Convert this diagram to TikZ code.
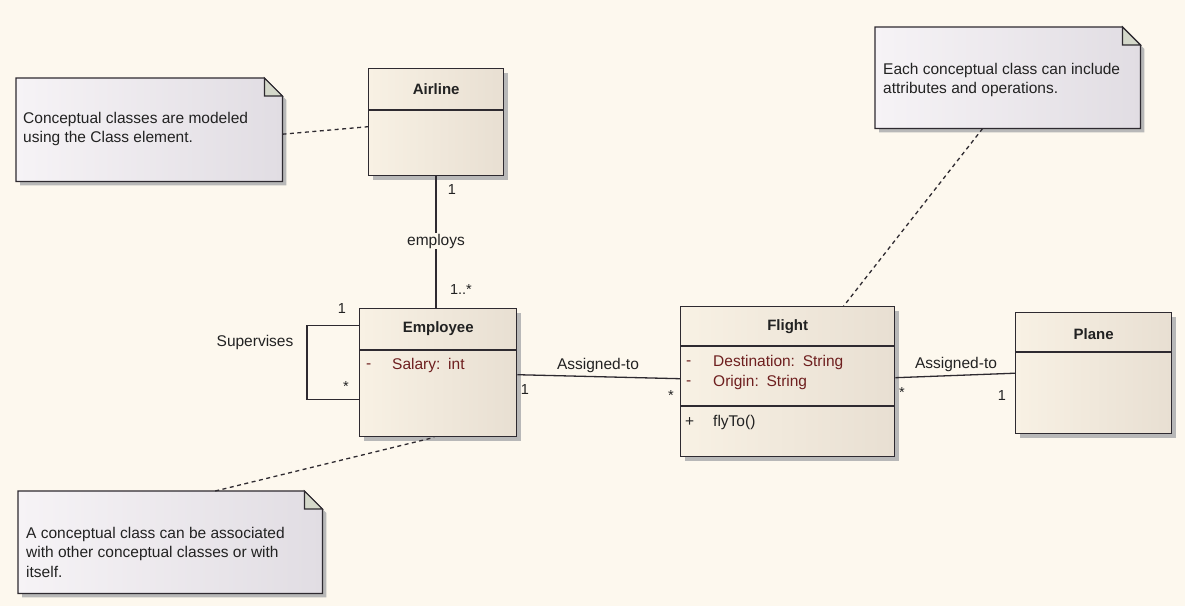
\documentclass[tikz,border=0pt]{standalone}
\usepackage{fontspec}
\setmainfont{Liberation Sans}
\usetikzlibrary{shadows,calc}

\definecolor{bgcream}{HTML}{FDF8EE}
\definecolor{classL}{HTML}{F8F1E4}
\definecolor{classR}{HTML}{E8DFD2}
\definecolor{noteL}{HTML}{F6F3F6}
\definecolor{noteR}{HTML}{E1DDE3}
\definecolor{foldcol}{HTML}{D4D8CA}
\definecolor{linecol}{HTML}{2E2A30}
\definecolor{attrcol}{HTML}{6E1F1F}
\definecolor{textcol}{HTML}{222222}
\definecolor{shadowcol}{HTML}{B8B8B8}

% outline of a note with a folded corner
\newcommand{\notepath}[1]{(#1.north west) -- ($(#1.north east)+(-18,0)$) -- ($(#1.north east)+(0,18)$) -- (#1.south east) -- (#1.south west) -- cycle}
\newcommand{\notefold}[1]{($(#1.north east)+(-18,0)$) -- ($(#1.north east)+(-18,18)$) -- ($(#1.north east)+(0,18)$) -- cycle}

\begin{document}
\begin{tikzpicture}[x=1pt,y=-1pt,
    classbox/.style={draw=linecol, line width=1.4pt, left color=classL, right color=classR,
        anchor=north west, inner sep=0pt,
        drop shadow={shadow xshift=4pt, shadow yshift=-4pt, fill=shadowcol, opacity=1}},
    classline/.style={draw=linecol, line width=1.2pt},
    notebox/.style={anchor=north west, inner sep=0pt},
    notedraw/.style={draw=linecol, line width=1.2pt, left color=noteL, right color=noteR},
    notetext/.style={anchor=west, align=left, text=textcol, inner sep=0pt,
        font=\fontsize{15.5}{19.5}\selectfont},
    titletext/.style={text=textcol, font=\fontsize{15}{18}\selectfont\bfseries},
    attrtext/.style={anchor=west, text=attrcol, inner sep=0pt, font=\fontsize{15.5}{18}\selectfont},
    labeltext/.style={text=textcol, inner sep=1pt, font=\fontsize{15.5}{18}\selectfont},
    multtext/.style={text=textcol, inner sep=0pt, font=\fontsize{14.5}{17}\selectfont},
    assoc/.style={draw=linecol, line width=1.3pt},
    noteline/.style={draw=linecol, line width=1.3pt, dash pattern=on 4pt off 3.5pt}]

    % Background
    \useasboundingbox (0,0) rectangle (1185,606);
    \fill[bgcream] (0,0) rectangle (1185,606);

    % Classes
    \node[classbox, minimum width=135pt, minimum height=107pt] (airline) at (368,68) {};
    \draw[classline] ([yshift=-42pt]airline.north west) -- ([yshift=-42pt]airline.north east);
    \node[titletext] (airlineTitle) at ($(airline.north)+(0,21)$) {Airline};

    \node[classbox, minimum width=157pt, minimum height=128pt] (employee) at (359,308) {};
    \draw[classline] ([yshift=-42pt]employee.north west) -- ([yshift=-42pt]employee.north east);
    \node[titletext] (employeeTitle) at ($(employee.north)+(0,21)$) {Employee};
    \node[attrtext] (salaryVis) at (366,366) {-};
    \node[attrtext] (salary) at (392,365) {Salary:\enspace int};

    \node[classbox, minimum width=214pt, minimum height=150pt] (flight) at (680,306) {};
    \draw[classline] ([yshift=-40pt]flight.north west) -- ([yshift=-40pt]flight.north east);
    \draw[classline] ([yshift=-100pt]flight.north west) -- ([yshift=-100pt]flight.north east);
    \node[titletext] (flightTitle) at ($(flight.north)+(0,21)$) {Flight};
    \node[attrtext] (destVis) at (686,363) {-};
    \node[attrtext] (dest) at (713,362) {Destination:\enspace String};
    \node[attrtext] (originVis) at (686,383) {-};
    \node[attrtext] (origin) at (713,382) {Origin:\enspace String};
    \node[attrtext, text=textcol] (flyVis) at (685,422) {+};
    \node[attrtext, text=textcol] (flyTo) at (713,422) {flyTo()};

    \node[classbox, minimum width=156pt, minimum height=121pt] (plane) at (1015,312) {};
    \draw[classline] ([yshift=-40pt]plane.north west) -- ([yshift=-40pt]plane.north east);
    \node[titletext] (planeTitle) at ($(plane.north)+(0,22)$) {Plane};

    % Notes
    \foreach \n/\x/\y/\w/\h in {note1/16/78/266/103, note2/875/27/265/101, note3/18/491/304/102} {
        \node[notebox, minimum width=\w pt, minimum height=\h pt] (\n) at (\x,\y) {};
        \fill[shadowcol, transform canvas={xshift=4pt, yshift=-4pt}] \notepath{\n};
        \draw[notedraw] \notepath{\n};
        \draw[draw=linecol, line width=1.2pt, fill=foldcol] \notefold{\n};
    }
    \node[notetext] (note1Text) at (23,129) {Conceptual classes are modeled\\using the Class element.};
    \node[notetext] (note2Text) at (883,80) {Each conceptual class can include\\attributes and operations.};
    \node[notetext] (note3Text) at (26,552) {A conceptual class can be associated\\with other conceptual classes or with\\itself.};

    % Note links
    \draw[noteline] ([yshift=-4.5pt]note1.east) -- ([yshift=-4.5pt]airline.west);
    \draw[noteline] ([xshift=-25pt]note2.south) -- ([xshift=56pt]flight.north);
    \draw[noteline] ([xshift=45pt]note3.north) -- ([xshift=-4pt]employee.south);

    % employs
    \node[labeltext] (employs) at (436,241) {employs};
    \draw[assoc] (employs.north |- airline.south) -- (employs.north);
    \draw[assoc] (employs.south) -- (employs.south |- employee.north);
    \node[multtext] (employsOne) at (452,190) {1};
    \node[multtext] (employsMany) at (461,290) {1..*};

    % Supervises
    \draw[assoc] ([yshift=47pt]employee.west) -- ++(-52,0) |- ([yshift=-27pt]employee.west);
    \node[labeltext] (supervises) at (255,342) {Supervises};
    \node[multtext] (superOne) at (342,309) {1};
    \node[multtext] (superMany) at (346,387) {*};

    % Assigned-to (Employee - Flight)
    \draw[assoc] ([yshift=-2pt]employee.east) -- ([yshift=3pt]flight.west);
    \node[labeltext] (assignEmp) at (598,365) {Assigned-to};
    \node[multtext] (assignEmpOne) at (525,390) {1};
    \node[multtext] (assignEmpMany) at (671,396) {*};

    % Assigned-to (Flight - Plane)
    \draw[assoc] ([yshift=4pt]flight.east) -- (plane.west);
    \node[labeltext] (assignPlane) at (956,364) {Assigned-to};
    \node[multtext] (assignPlaneMany) at (902,393) {*};
    \node[multtext] (assignPlaneOne) at (1002,396) {1};
\end{tikzpicture}
\end{document}
